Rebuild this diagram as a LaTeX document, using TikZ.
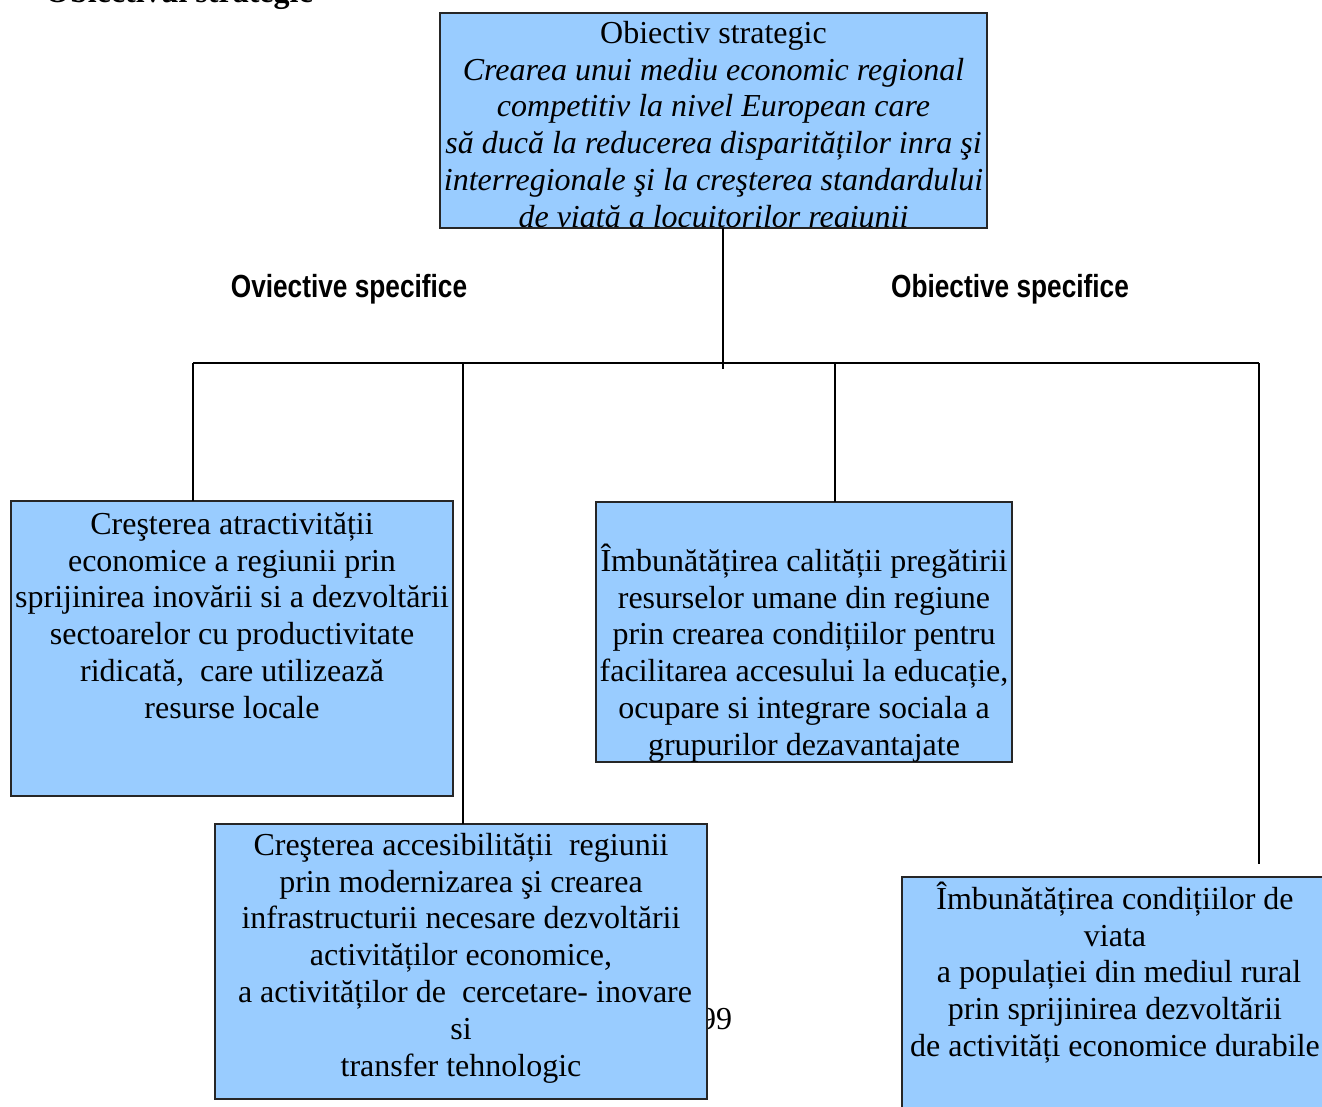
\documentclass[tikz,border=0pt]{standalone}
\usepackage{fontspec}
\setmainfont{Liberation Serif}
\newfontfamily\headfont[FakeStretch=0.82]{Liberation Sans}
\definecolor{boxblue}{RGB}{153,204,255}
\newcommand\fstrut{\rule{0pt}{30pt}}
\tikzset{
  boxshape/.style={rectangle, anchor=north west, inner sep=0pt, outer sep=0pt, fill=boxblue, draw=black!85, line width=1.8pt},
  boxtext/.style={anchor=north, inner sep=0pt, align=center, font=\fontsize{32}{36.8}\selectfont},
  headtext/.style={anchor=base, inner sep=0pt, font=\headfont\bfseries\fontsize{32}{36}\selectfont},
  conn/.style={draw=black, line width=1.8pt}
}
\begin{document}
\begin{tikzpicture}[x=1pt,y=-1pt]
\useasboundingbox (0,0) rectangle (1322,1106);
\fill[white] (0,0) rectangle (1322,1106);

% cropped heading at the very top
\node[anchor=base west, inner sep=0pt, font=\bfseries\fontsize{32}{36}\selectfont] (pagehead) at (45,2) {Obiectivul strategic};

% top box
\node[boxshape, minimum width=547pt, minimum height=215pt] (top) at (440,13) {};
\begin{scope}
\clip (top.south west) rectangle (top.north east);
\node[boxtext] (toptext) at (713.5,13) {\fstrut Obiectiv strategic\\
\itshape Crearea unui mediu economic regional\\
\itshape competitiv la nivel European care\\
\itshape să ducă la reducerea disparităților inra şi\\
\itshape interregionale şi la creşterea standardului\\
\itshape de viată a locuitorilor regiunii};
\end{scope}
\draw[draw=black!85, line width=1.8pt] (top.south west) rectangle (top.north east);

% headings
\node[headtext] (hleft) at (349,297) {Oviective specifice};
\node[headtext] (hright) at (1010,297) {Obiective specifice};

% page number (partly hidden)
\node[anchor=base, inner sep=0pt, font=\fontsize{32}{36.8}\selectfont] (pagenum) at (716,1029) {99};

% boxes
\node[boxshape, minimum width=442pt, minimum height=295pt] (left) at (11,501) {};
\node[boxshape, minimum width=416pt, minimum height=260pt] (mid) at (596,502) {};
\node[boxshape, minimum width=492pt, minimum height=275pt] (bot) at (215,824) {};
\node[boxshape, minimum width=426pt, minimum height=240pt] (right) at (902,877) {};

\node[boxtext] (lefttext) at (232,504) {\fstrut Creşterea atractivității\\
economice a regiunii prin\\
sprijinirea inovării si a dezvoltării\\
sectoarelor cu productivitate\\
ridicată,~ care utilizează\\
resurse locale};

\node[boxtext] (midtext) at (804,541) {\fstrut Îmbunătățirea calității pregătirii\\
resurselor umane din regiune\\
prin crearea condițiilor pentru\\
facilitarea accesului la educație,\\
ocupare si integrare sociala a\\
grupurilor dezavantajate};

\node[boxtext] (bottext) at (461,825) {\fstrut Creşterea accesibilității~ regiunii\\
prin modernizarea şi crearea\\
infrastructurii necesare dezvoltării\\
activităților economice,\\
\hspace*{8pt}a activităților de~ cercetare- inovare\\
si\\
transfer tehnologic};

\node[boxtext] (righttext) at (1115,879) {\fstrut Îmbunătățirea condițiilor de\\
viata\\
\hspace*{8pt}a populației din mediul rural\\
prin sprijinirea dezvoltării\\
de activități economice durabile};

% connectors
\coordinate (jend) at (723,369);
\coordinate (hl) at (193,363);
\coordinate (hr) at (1259,363);
\coordinate (h2) at (463,363);
\coordinate (h3) at (835,363);
\coordinate (rend) at (1259,864);
\draw[conn] (top.south -| jend) -- (jend);
\draw[conn] (hl) -- (hr);
\draw[conn] (hl) -- (hl |- left.north);
\draw[conn] (h2) -- (h2 |- bot.north);
\draw[conn] (h3) -- (h3 |- mid.north);
\draw[conn] (hr) -- (rend);
\end{tikzpicture}
\end{document}
